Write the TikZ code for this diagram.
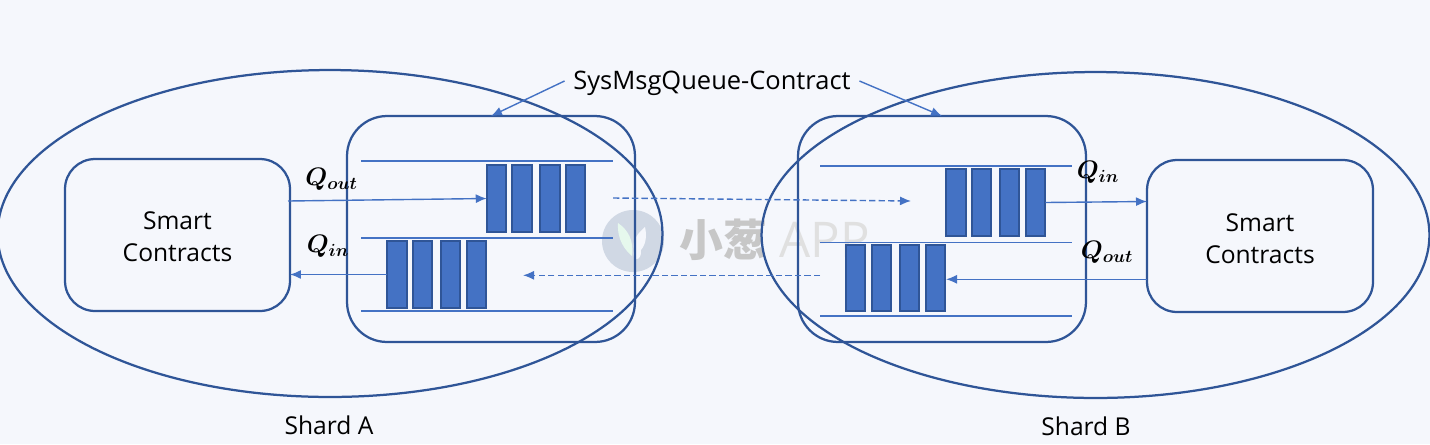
\documentclass[tikz,border=0pt]{standalone}
\usepackage{fontspec}
\setmainfont{Open Sans}
\newfontfamily\cjkfont{Noto Sans CJK SC}
\usepackage{tikz}
\usetikzlibrary{arrows.meta,shapes.geometric}
\definecolor{paper}{HTML}{F5F7FC}
\definecolor{edgeblue}{HTML}{2F5597}
\definecolor{barblue}{HTML}{4472C4}
\definecolor{markgrey}{HTML}{D0D8E4}
\tikzset{
	shard/.style={draw=edgeblue, line width=0.045cm, ellipse, inner sep=0, outer sep=0},
	contractbox/.style={draw=edgeblue, line width=0.045cm, rounded corners=0.6cm, inner sep=0, outer sep=0},
	bar/.style={draw=edgeblue, fill=barblue, line width=0.04cm, minimum width=0.39cm, minimum height=1.33cm, inner sep=0, outer sep=0},
	rail/.style={draw=barblue, line width=0.028cm},
	flow/.style={draw=barblue, line width=0.028cm, -{Latex[length=0.22cm,width=0.18cm]}},
	dashflow/.style={flow, dash pattern=on 3.6pt off 1.8pt},
	caption/.style={inner sep=0, align=center, font=\fontsize{14}{18}\selectfont},
	qlabel/.style={inner sep=0, font=\fontsize{14.5}{18}\selectfont\boldmath}
}

\begin{document}
\begin{tikzpicture}[x=0.02cm, y=-0.02cm]
			%%%%% START %%%%%
			
			\useasboundingbox (0, 0) rectangle (1430, 444);
			\fill[paper] (0, 0) rectangle (1430, 444);
			
			% watermark
			\fill[markgrey] (633, 241) circle (31);
			\fill[green!6!paper] (618, 223) .. controls (617, 240) and (625, 250) .. (632, 256) .. controls (634, 240) and (628, 230) .. (618, 223);
			\fill[paper] (645, 227) .. controls (632, 238) and (633, 246) .. (634, 250) .. controls (631, 262) and (642, 262) .. (641, 250) .. controls (646, 244) and (647, 236) .. (645, 227);
			\node[inner sep=0, text=black!22] (markA) at (723, 240) {\cjkfont\bfseries\fontsize{25}{25}\selectfont 小葱};
			\node[inner sep=0, text=black!12] (markB) at (825, 240) {\fontsize{28}{28}\selectfont APP};
			
			\node[shard, minimum width=13.3cm, minimum height=6.54cm] (shardA) at (330, 233.5) {};
			\node[shard, minimum width=13.36cm, minimum height=6.52cm] (shardB) at (1095.5, 235) {};
			
			\node[contractbox, minimum width=4.5cm, minimum height=3.04cm] (scA) at (177.5, 235) {};
			\node[contractbox, minimum width=4.52cm, minimum height=3.04cm] (scB) at (1260, 236) {};
			\node[contractbox, minimum width=5.76cm, minimum height=4.52cm, rounded corners=0.8cm] (qcA) at (491, 229) {};
			\node[contractbox, minimum width=5.76cm, minimum height=4.52cm, rounded corners=0.8cm] (qcB) at (942, 229) {};
			
			\node[caption] (nameSmartA) at (177.5, 237) {Smart\\Contracts};
			\node[caption] (nameSmartB) at (1260, 238.5) {Smart\\Contracts};
			
			\draw[rail] (361, 161) -- (613, 161);
			\draw[rail] (361, 238) -- (613, 238);
			\draw[rail] (361, 311) -- (613, 311);
			\draw[rail] (820, 166) -- (1072, 166);
			\draw[rail] (820, 242.5) -- (1072, 242.5);
			\draw[rail] (820, 316) -- (1072, 316);
			
			\node[bar] (barAout1) at (496.5, 198.5) {};
			\node[bar] (barAout2) at (522, 198.5) {};
			\node[bar] (barAout3) at (550, 198.5) {};
			\node[bar] (barAout4) at (575.5, 198.5) {};
			
			\node[bar] (barAin1) at (397, 274.5) {};
			\node[bar] (barAin2) at (422.5, 274.5) {};
			\node[bar] (barAin3) at (450.5, 274.5) {};
			\node[bar] (barAin4) at (476.5, 274.5) {};
			
			\node[bar] (barBin1) at (956, 202.5) {};
			\node[bar] (barBin2) at (981.5, 202.5) {};
			\node[bar] (barBin3) at (1009.5, 202.5) {};
			\node[bar] (barBin4) at (1035.5, 202.5) {};
			
			\node[bar] (barBout1) at (855.5, 278) {};
			\node[bar] (barBout2) at (881.5, 278) {};
			\node[bar] (barBout3) at (909.5, 278) {};
			\node[bar] (barBout4) at (935.5, 278) {};
			
			\coordinate (portAout) at (288, 201);
			\coordinate (portBin) at (1147, 201.5);
			\coordinate (portBout) at (1147, 279.3);
			\coordinate (tipBout) at (946, 279.3);
			\coordinate (wireAstart) at (613, 198);
			\coordinate (wireAend) at (911, 201);
			\coordinate (wireBstart) at (820, 275.3);
			\coordinate (wireBend) at (523, 275.3);
			
			\draw[flow] (portAout) -- (barAout1.west);
			\draw[flow] (barAin1.west) -- (barAin1.west -| scA.east);
			\draw[flow] (barBin4.east) -- (portBin);
			\draw[flow] (portBout) -- (tipBout);
			\draw[dashflow] (wireAstart) -- (wireAend);
			\draw[dashflow] (wireBstart) -- (wireBend);
			
			\node[caption, inner xsep=0.17cm, font=\fontsize{14.5}{18}\selectfont, text height=12pt, text depth=1.8pt] (sysmsg) at (712, 81) {SysMsgQueue-Contract};
			\draw[flow] (sysmsg.west) -- (qcA.north);
			\draw[flow] (sysmsg.east) -- (qcB.north);
			
			\node[caption] (nameA) at (329, 425) {Shard A};
			\node[caption] (nameB) at (1086, 426) {Shard B};
			
			\node[qlabel] (qAout) at (331.5, 179) {$Q_{out}$};
			\node[qlabel] (qAin) at (328, 246) {$Q_{in}$};
			\node[qlabel] (qBin) at (1098, 172) {$Q_{in}$};
			\node[qlabel] (qBout) at (1107, 252) {$Q_{out}$};
			
			%%%%% END %%%%%
\end{tikzpicture}
\end{document}
